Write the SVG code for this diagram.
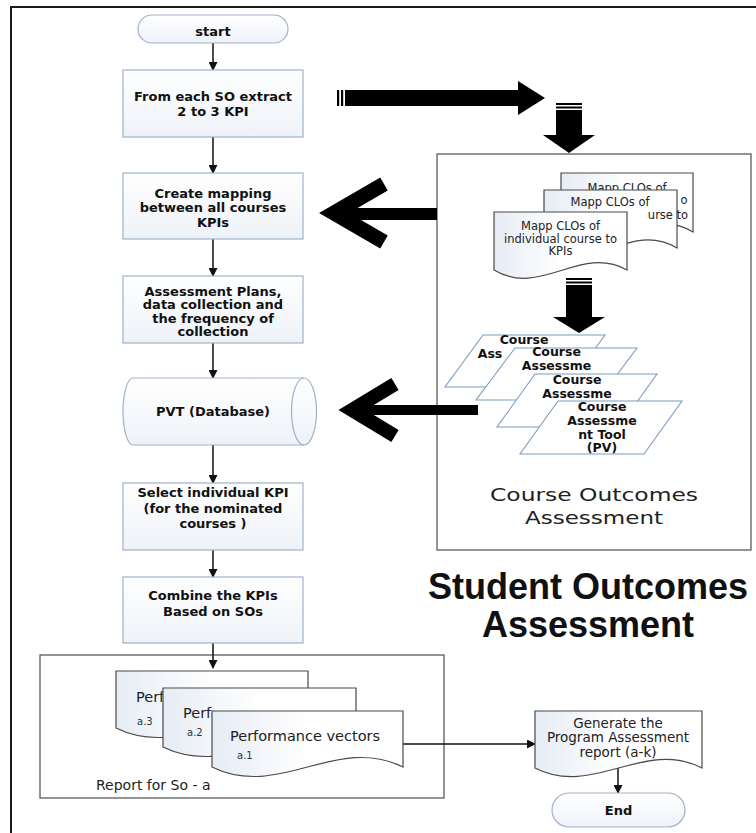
<svg xmlns="http://www.w3.org/2000/svg" width="756" height="833" viewBox="0 0 756 833">
<style>
.bx{fill:url(#gBox);stroke:#9fb2ca;stroke-width:1.2}
.doc{fill:url(#gDoc);stroke:#4a4a4a;stroke-width:1.2}
.par{fill:#fff;stroke:#7d9cc4;stroke-width:1.1}
.grp{fill:none;stroke:#4d4d4d;stroke-width:1.2}
.tb{font-family:"DejaVu Sans",sans-serif;font-weight:bold;font-size:13px;fill:#111;text-anchor:middle}
.tq{font-family:"DejaVu Sans",sans-serif;font-weight:bold;font-size:12.5px;fill:#111;text-anchor:middle}
.tr{font-family:"DejaVu Sans",sans-serif;font-size:11.5px;fill:#222;text-anchor:middle}
.tg{font-family:"DejaVu Sans",sans-serif;font-size:13.5px;fill:#222;text-anchor:middle}
.tp{font-family:"DejaVu Sans",sans-serif;font-size:14.5px;fill:#222}
.tl{font-family:"DejaVu Sans",sans-serif;font-size:10px;fill:#333}
.tc{font-family:"DejaVu Sans",sans-serif;font-size:18px;fill:#222;text-anchor:middle}
.tt{font-family:"Liberation Sans",Arial,sans-serif;font-weight:bold;font-size:36px;fill:#111;text-anchor:middle}
.con{stroke:#111;stroke-width:1.5;fill:none}
.big{fill:#000}
</style>
<defs>
<linearGradient id="gBox" x1="0" y1="0" x2="0" y2="1"><stop offset="0" stop-color="#ffffff"/><stop offset="1" stop-color="#eef2f8"/></linearGradient>
<linearGradient id="gDoc" x1="0" y1="0" x2="1" y2="0"><stop offset="0" stop-color="#e6ecf5"/><stop offset="0.5" stop-color="#ffffff"/><stop offset="1" stop-color="#ffffff"/></linearGradient>
<marker id="ah" markerWidth="9" markerHeight="9" refX="8" refY="4.5" orient="auto" markerUnits="userSpaceOnUse"><path d="M0,0 L9,4.5 L0,9 Z" fill="#111"/></marker>
</defs>

<path d="M11,833 V7 H756" fill="none" stroke="#1a1a1a" stroke-width="2"/>

<g id="course-outcomes-group">
<rect class="grp" x="437" y="154" width="314" height="396"/>
<text class="tc" x="594" y="501" textLength="208" lengthAdjust="spacingAndGlyphs">Course Outcomes</text>
<text class="tc" x="594" y="524" textLength="138" lengthAdjust="spacingAndGlyphs">Assessment</text>
</g>

<g id="report-group">
<rect class="grp" x="40" y="655" width="404" height="143"/>
<text x="96" y="790" font-family="DejaVu Sans,sans-serif" font-size="14" fill="#222">Report for So - a</text>
</g>

<g id="connectors">
<line class="con" x1="213" y1="43" x2="213" y2="70" marker-end="url(#ah)"/>
<line class="con" x1="213" y1="137" x2="213" y2="173" marker-end="url(#ah)"/>
<line class="con" x1="213" y1="239" x2="213" y2="276" marker-end="url(#ah)"/>
<line class="con" x1="213" y1="343" x2="213" y2="378" marker-end="url(#ah)"/>
<line class="con" x1="213" y1="445" x2="213" y2="483" marker-end="url(#ah)"/>
<line class="con" x1="213" y1="550" x2="213" y2="577" marker-end="url(#ah)"/>
<line class="con" x1="213" y1="643" x2="213" y2="668" marker-end="url(#ah)"/>
<line class="con" x1="403" y1="744" x2="535" y2="744" marker-end="url(#ah)"/>
<line class="con" x1="618" y1="766" x2="618" y2="793" marker-end="url(#ah)"/>
<g id="arrow-right">
<rect class="big" x="337" y="90" width="2.2" height="16"/>
<rect class="big" x="341" y="90" width="2.2" height="16"/>
<rect class="big" x="345" y="90" width="175" height="16"/>
<polygon class="big" points="518,81 545,98 518,115"/>
</g>
<g id="arrow-down-1">
<rect class="big" x="556" y="103" width="26" height="2"/>
<rect class="big" x="556" y="106.5" width="26" height="2"/>
<rect class="big" x="556" y="110" width="26" height="26"/>
<polygon class="big" points="543,135 595,135 569,153"/>
</g>
<g id="arrow-down-2">
<rect class="big" x="566" y="278" width="26" height="2"/>
<rect class="big" x="566" y="281.5" width="26" height="2"/>
<rect class="big" x="566" y="285" width="26" height="33"/>
<polygon class="big" points="553,317 605,317 579,333"/>
</g>
<g id="arrow-left-1">
<rect class="big" x="336" y="208" width="101" height="12"/>
<polyline points="384,184 334,213 384,242" fill="none" stroke="#000" stroke-width="15" stroke-linejoin="miter" stroke-miterlimit="10"/>
</g>
<g id="arrow-left-2">
<rect class="big" x="350" y="405" width="128" height="10"/>
<polyline points="395,384 352,410 395,436" fill="none" stroke="#000" stroke-width="14" stroke-linejoin="miter" stroke-miterlimit="10"/>
</g>
</g>

<g id="start">
<rect class="bx" x="138" y="15" width="150" height="28" rx="14"/>
<text class="tb" x="213" y="36">start</text>
</g>

<g id="extract-kpi">
<rect class="bx" x="123" y="70" width="180" height="67"/>
<text class="tb" x="213" y="101">From each SO extract</text>
<text class="tb" x="213" y="115.5">2 to 3 KPI</text>
</g>

<g id="create-mapping">
<rect class="bx" x="123" y="173" width="180" height="66"/>
<text class="tb" x="213" y="197.5">Create mapping</text>
<text class="tb" x="213" y="212">between all courses</text>
<text class="tb" x="213" y="226.5">KPIs</text>
</g>

<g id="assessment-plans">
<rect class="bx" x="123" y="276" width="180" height="67"/>
<text class="tb" x="213" y="295.5">Assessment Plans,</text>
<text class="tb" x="213" y="309">data collection and</text>
<text class="tb" x="213" y="322.5">the frequency of</text>
<text class="tb" x="213" y="336">collection</text>
</g>

<g id="pvt-database">
<path class="bx" d="M133,378 H304 A12.5,33.5 0 0 1 304,445 H133 A10,33.5 0 0 1 133,378 Z"/>
<path d="M304,378 A12.5,33.5 0 0 0 304,445" fill="none" stroke="#9fb2ca" stroke-width="1.2"/>
<text class="tb" x="213" y="416">PVT (Database)</text>
</g>

<g id="select-kpi">
<rect class="bx" x="123" y="483" width="180" height="67"/>
<text class="tb" x="213" y="497">Select individual KPI</text>
<text class="tb" x="213" y="512.5">(for the nominated</text>
<text class="tb" x="213" y="527.5">courses )</text>
</g>

<g id="combine-kpis">
<rect class="bx" x="123" y="577" width="180" height="66"/>
<text class="tb" x="213" y="599.5">Combine the KPIs</text>
<text class="tb" x="213" y="615.5">Based on SOs</text>
</g>

<g id="mapp-clos-3">
<path class="doc" d="M561,173 H693 V232 C647,204 607,260 561,232 Z"/>
<text class="tr" x="627" y="192">Mapp CLOs of</text>
<text class="tr" x="684" y="204" text-anchor="end">o</text>
</g>
<g id="mapp-clos-2">
<path class="doc" d="M544,190 H677 V248 C630,220 591,276 544,248 Z"/>
<text class="tr" x="610" y="206">Mapp CLOs of</text>
<text class="tr" x="668" y="219" text-anchor="end">urse to</text>
</g>
<g id="mapp-clos-1">
<path class="doc" d="M494,212 H627 V270 C580,244 541,298 494,270 Z"/>
<text class="tr" x="560.5" y="230">Mapp CLOs of</text>
<text class="tr" x="560.5" y="242.5">individual course to</text>
<text class="tr" x="560.5" y="255">KPIs</text>
</g>

<g id="tool-1">
<polygon class="par" points="483,335 605,335 567,387 445,387"/>
<text class="tq" x="524" y="343.5">Course</text>
<text class="tq" x="490" y="357.5" text-anchor="start">Ass</text>
</g>
<g id="tool-2">
<polygon class="par" points="515,348 637,348 598,400 476,400"/>
<text class="tq" x="556.5" y="355.5">Course</text>
<text class="tq" x="556.5" y="369.5">Assessme</text>
</g>
<g id="tool-3">
<polygon class="par" points="535,374 657,374 619,427 497,427"/>
<text class="tq" x="577" y="383.5">Course</text>
<text class="tq" x="577" y="397.5">Assessme</text>
</g>
<g id="tool-4">
<polygon class="par" points="558,401 682,401 644,454 520,454"/>
<text class="tq" x="602" y="411">Course</text>
<text class="tq" x="602" y="424.5">Assessme</text>
<text class="tq" x="602" y="438.5">nt Tool</text>
<text class="tq" x="602" y="452">(PV)</text>
</g>

<g id="perf-a3">
<path class="doc" d="M116,671 H308 V728 C241,695 183,761 116,728 Z"/>
<text class="tp" x="136" y="702">Perf</text>
<text class="tl" x="137" y="725">a.3</text>
</g>
<g id="perf-a2">
<path class="doc" d="M163,688 H356 V747 C288,714 231,780 163,747 Z"/>
<text class="tp" x="183" y="718">Perf</text>
<text class="tl" x="187" y="736">a.2</text>
</g>
<g id="perf-a1">
<path class="doc" d="M212,711 H403 V767 C336,734 279,800 212,767 Z"/>
<text class="tp" x="230" y="741">Performance vectors</text>
<text class="tl" x="237" y="759">a.1</text>
</g>

<g id="generate-report">
<path class="doc" d="M535,711 H702 V768 C644,738 593,798 535,768 Z"/>
<text class="tg" x="618" y="727.5">Generate the</text>
<text class="tg" x="618" y="742">Program Assessment</text>
<text class="tg" x="618" y="756.5">report (a-k)</text>
</g>

<g id="end">
<rect class="bx" x="552" y="793" width="133" height="34" rx="17"/>
<text class="tb" x="618.5" y="815">End</text>
</g>

<g id="title">
<text class="tt" x="588" y="599">Student Outcomes</text>
<text class="tt" x="588" y="637">Assessment</text>
</g>
</svg>
